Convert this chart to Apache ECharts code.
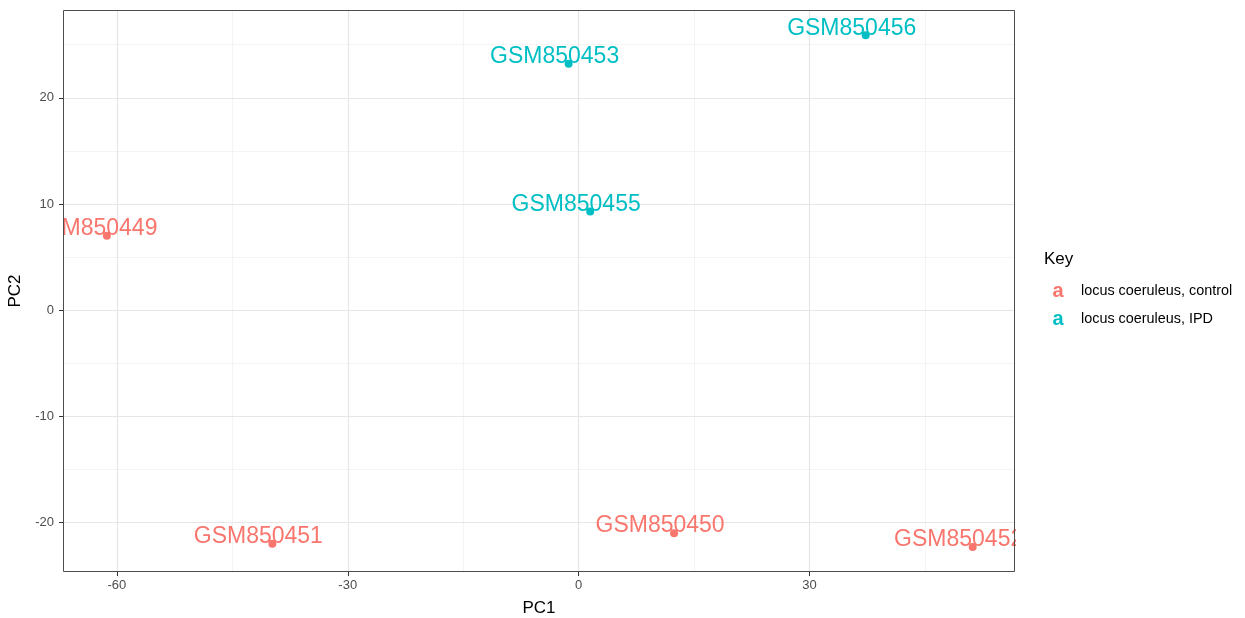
<!DOCTYPE html>
<html>
<head>
<meta charset="utf-8">
<script src="https://cdn.jsdelivr.net/npm/echarts@6/dist/echarts.min.js"></script>
<style>
  html, body { margin: 0; padding: 0; background: #fff; }
  #chartPca { width: 1245px; height: 618px; }
</style>
</head>
<body>
<div id="chartPca"></div>
<script>
// sample scores
var controlNames = ["GSM850449", "GSM850450", "GSM850451", "GSM850452"];
var controlPC1 = [-61.3, 12.4, -39.8, 51.2];
var controlPC2 = [7.0, -21.0, -22.0, -22.3];

var ipdNames = ["GSM850453", "GSM850455", "GSM850456"];
var ipdPC1 = [-1.3, 1.5, 37.3];
var ipdPC2 = [23.2, 9.3, 25.9];

var xTicks = [-60, -30, 0, 30];
var xMinor = [-45, -15, 15, 45];
var yTicks = [-20, -10, 0, 10, 20];
var yMinor = [-15, -5, 5, 15, 25];

var groupNames = ["locus coeruleus, control", "locus coeruleus, IPD"];
var groupColors = ["#F8766D", "#00BFC4"];

var font = "'Liberation Sans', Arial, sans-serif";

function points(names, xs, ys) {
  var out = [];
  for (var i = 0; i < names.length; i++) {
    out.push({ name: names[i], value: [xs[i], ys[i]] });
  }
  return out;
}

function gridLines(values, dim) {
  return values.map(function (v) {
    var d = {};
    d[dim] = v;
    return d;
  });
}

var chart = echarts.init(document.getElementById("chartPca"));

var labelStyle = {
  show: true,
  position: "inside",
  offset: [-14, -7],
  formatter: "{b}",
  fontFamily: font,
  fontSize: 23,
};

var option = {
  animation: false,
  backgroundColor: "#fff",
  grid: { left: 63, top: 10, width: 952, height: 562, containLabel: false, outerBoundsMode: "none" },
  xAxis: {
    type: "value",
    min: -67.0,
    max: 56.7,
    z: 5,
    name: "PC1",
    nameLocation: "middle",
    nameGap: 28,
    nameTextStyle: { color: "#000", fontSize: 17, fontFamily: font },
    axisLine: { show: false, onZero: false },
    axisTick: { show: true, length: 4, customValues: xTicks, lineStyle: { color: "#333" } },
    axisLabel: { customValues: xTicks, margin: 7, color: "#4d4d4d", fontSize: 13, fontFamily: font },
    splitLine: { show: false },
  },
  yAxis: {
    type: "value",
    min: -24.66,
    max: 28.27,
    z: 5,
    name: "PC2",
    nameLocation: "middle",
    nameGap: 34,
    nameRotate: 90,
    nameTextStyle: { color: "#000", fontSize: 17, fontFamily: font },
    axisLine: { show: false, onZero: false },
    axisTick: { show: true, length: 4, customValues: yTicks, lineStyle: { color: "#333" } },
    axisLabel: { customValues: yTicks, margin: 9, color: "#4d4d4d", fontSize: 13, fontFamily: font },
    splitLine: { show: false },
  },
  series: [
    {
      // panel grid lines
      name: "grid",
      type: "scatter",
      data: [],
      z: 1,
      silent: true,
      markLine: {
        z: 1,
        silent: true,
        symbol: "none",
        label: { show: false },
        emphasis: { disabled: true },
        data: gridLines(xMinor, "xAxis")
          .concat(gridLines(yMinor, "yAxis"))
          .map(function (d) {
            d.lineStyle = { color: "#f4f4f4", width: 1, type: "solid" };
            return d;
          })
          .concat(
            gridLines(xTicks, "xAxis")
              .concat(gridLines(yTicks, "yAxis"))
              .map(function (d) {
                d.lineStyle = { color: "#e6e6e6", width: 1.2, type: "solid" };
                return d;
              })
          ),
      },
    },
    {
      name: groupNames[0],
      type: "scatter",
      z: 2,
      symbolSize: 8,
      itemStyle: { color: groupColors[0], opacity: 1 },
      label: Object.assign({ color: groupColors[0] }, labelStyle),
      data: points(controlNames, controlPC1, controlPC2),
    },
    {
      name: groupNames[1],
      type: "scatter",
      z: 2,
      symbolSize: 8,
      itemStyle: { color: groupColors[1], opacity: 1 },
      label: Object.assign({ color: groupColors[1] }, labelStyle),
      data: points(ipdNames, ipdPC1, ipdPC2),
    },
  ],
  graphic: [
    // mask labels that run past the panel
    { type: "rect", z: 3, silent: true, shape: { x: 0, y: 0, width: 62.5, height: 618 }, style: { fill: "#fff" } },
    { type: "rect", z: 3, silent: true, shape: { x: 1016, y: 0, width: 25, height: 618 }, style: { fill: "#fff" } },
    // panel border
    { type: "rect", z: 10, silent: true, shape: { x: 63.5, y: 10.5, width: 951, height: 561 }, style: { fill: "none", stroke: "#4d4d4d", lineWidth: 1 } },
    // legend
    { type: "text", z: 10, x: 1044, y: 259, style: { text: "Key", fill: "#000", fontSize: 17, fontFamily: font, verticalAlign: "middle" } },
    { type: "text", z: 10, x: 1058, y: 291, style: { text: "a", fill: groupColors[0], fontSize: 20, fontWeight: "bold", fontFamily: font, align: "center", verticalAlign: "middle" } },
    { type: "text", z: 10, x: 1081, y: 291, style: { text: groupNames[0], fill: "#000", fontSize: 14.4, fontFamily: font, verticalAlign: "middle" } },
    { type: "text", z: 10, x: 1058, y: 319, style: { text: "a", fill: groupColors[1], fontSize: 20, fontWeight: "bold", fontFamily: font, align: "center", verticalAlign: "middle" } },
    { type: "text", z: 10, x: 1081, y: 319, style: { text: groupNames[1], fill: "#000", fontSize: 14.4, fontFamily: font, verticalAlign: "middle" } },
  ],
};

chart.setOption(option);
</script>
</body>
</html>
